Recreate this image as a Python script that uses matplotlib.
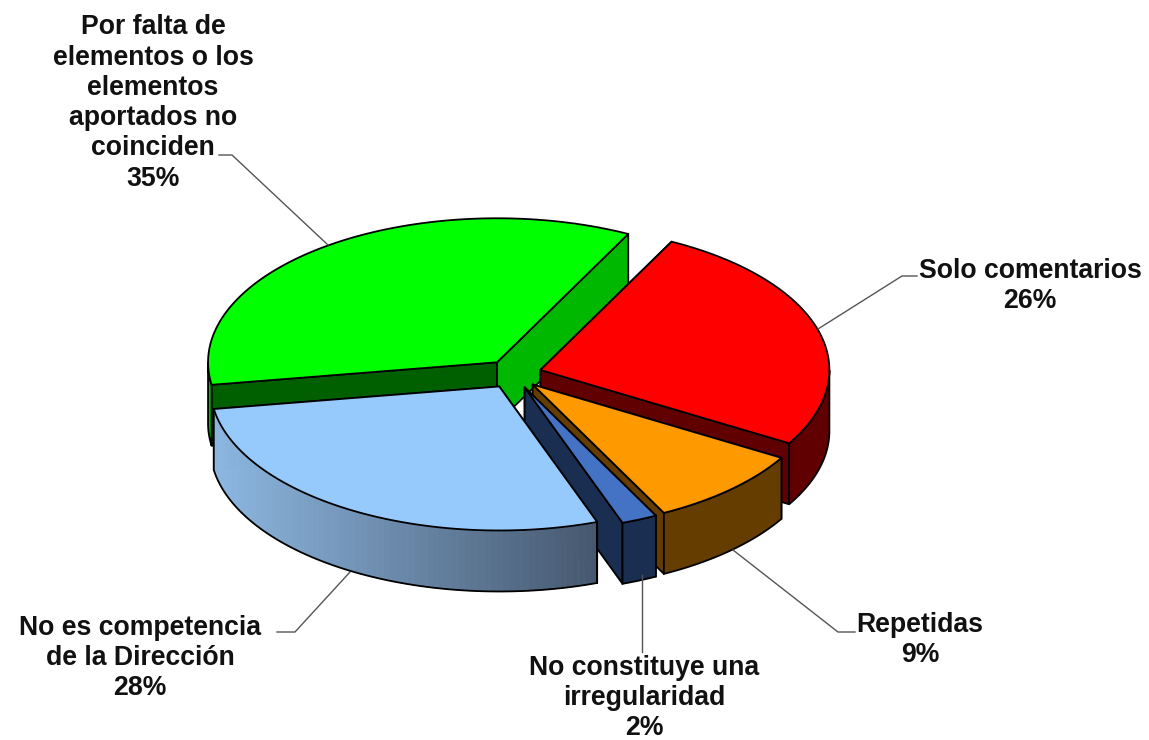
import numpy as np
import matplotlib
matplotlib.use("Agg")
import matplotlib.pyplot as plt
from matplotlib.colors import to_rgb

plt.rcParams['font.family'] = ['Liberation Sans', 'DejaVu Sans']

# Slices, clockwise from the first one
categories = ['Solo comentarios', 'Repetidas', 'No constituye una\nirregularidad',
              'No es competencia\nde la Dirección',
              'Por falta de\nelementos o los\nelementos\naportados no\ncoinciden']
values = [26, 9, 2, 28, 35]
top_colors = ['#FF0000', '#FF9900', '#4472C4', '#96C9FC', '#00FF00']
wall_colors = ['#600000', '#663D00', '#1A2E52', '#8DB8E2', '#00B800']
start_face_colors = ['#600000', '#663D00', '#1A2E52', '#8DB8E2', '#006000']
end_face_colors = ['#600000', '#663D00', '#1A2E52', '#46586F', '#00B800']

# Pie geometry in pixels
cx, cy = 513.5, 374.0
rx, ry = 289.0, 144.0
depth = 61.0
explode_x, explode_y = 28.0, 14.5
start_angle = 63.0


def arc(x0, y0, a0, a1, n=80):
    t = np.radians(np.linspace(a0, a1, n))
    return x0 + rx * np.cos(t), y0 - ry * np.sin(t)


def draw_slice(a0, a1, top, wall, start_face, end_face):
    # a0 > a1, going clockwise
    mid = np.radians((a0 + a1) / 2)
    x0 = cx + explode_x * np.cos(mid)
    y0 = cy - explode_y * np.sin(mid)
    ax_, ay_ = arc(x0, y0, a0, a1)

    # cut faces
    for i, col in ((0, start_face), (-1, end_face)):
        ax.fill([x0, ax_[i], ax_[i], x0], [y0, ay_[i], ay_[i] + depth, y0 + depth],
                facecolor=col, edgecolor='black', lw=1.3, joinstyle='round')

    # outer wall, only the part that faces the viewer
    lo, hi = max(a1, -180), min(a0, 0)
    if a0 > -180 and lo < hi:
        wx, wy = arc(x0, y0, hi, lo)
        if top == '#96C9FC':
            # light blue wall has a gradient running left to right
            left, right = np.array(to_rgb('#8DB8E2')), np.array(to_rgb('#46586F'))
            for i in range(len(wx) - 1):
                f = (wx[i] - wx.min()) / (wx.max() - wx.min())
                col = left + (right - left) * f
                ax.fill([wx[i], wx[i + 1], wx[i + 1], wx[i]],
                        [wy[i], wy[i + 1], wy[i + 1] + depth, wy[i] + depth],
                        facecolor=col, edgecolor=col, lw=0.6)
            ax.plot(np.r_[wx[0], wx, wx[-1]], np.r_[wy[0], wy + depth, wy[-1]], color='black', lw=1.3)
            ax.plot([wx[0], wx[0]], [wy[0], wy[0] + depth], color='black', lw=1.3)
        else:
            ax.fill(np.r_[wx, wx[::-1]], np.r_[wy, wy[::-1] + depth],
                    facecolor=wall, edgecolor='black', lw=1.3)

    # top surface
    ax.fill(np.r_[x0, ax_], np.r_[y0, ay_], facecolor=top, edgecolor='black', lw=1.3,
            joinstyle='round')


fig = plt.figure(figsize=(11.49, 7.40), dpi=100)
ax = fig.add_axes([0, 0, 1, 1])
ax.set_xlim(0, 1149)
ax.set_ylim(740, 0)
ax.axis('off')

# Leader lines go under the pie
leaders = [([917, 902, 818], [276, 276, 329]),
           ([855, 838, 733], [632, 632, 550]),
           ([642, 642], [652, 575]),
           ([277, 295, 350], [632, 632, 572]),
           ([219, 232, 328], [155, 155, 245])]
for lx, ly in leaders:
    ax.plot(lx, ly, color='#555555', lw=1.0)

angles = start_angle - np.cumsum([0] + values) * 3.6
for i in [4, 0, 1, 2, 3]:
    draw_slice(angles[i], angles[i + 1], top_colors[i], wall_colors[i],
               start_face_colors[i], end_face_colors[i])

label_pos = [(1030, 286), (920, 640), (644, 698), (140, 658), (153, 103)]
for name, v, (tx, ty) in zip(categories, values, label_pos):
    ax.text(tx, ty, f"{name}\n{v}%", ha='center', va='center', fontsize=19.2,
            fontweight='bold', color='#111111', linespacing=1.21)

fig.savefig('out.png', dpi=100)
